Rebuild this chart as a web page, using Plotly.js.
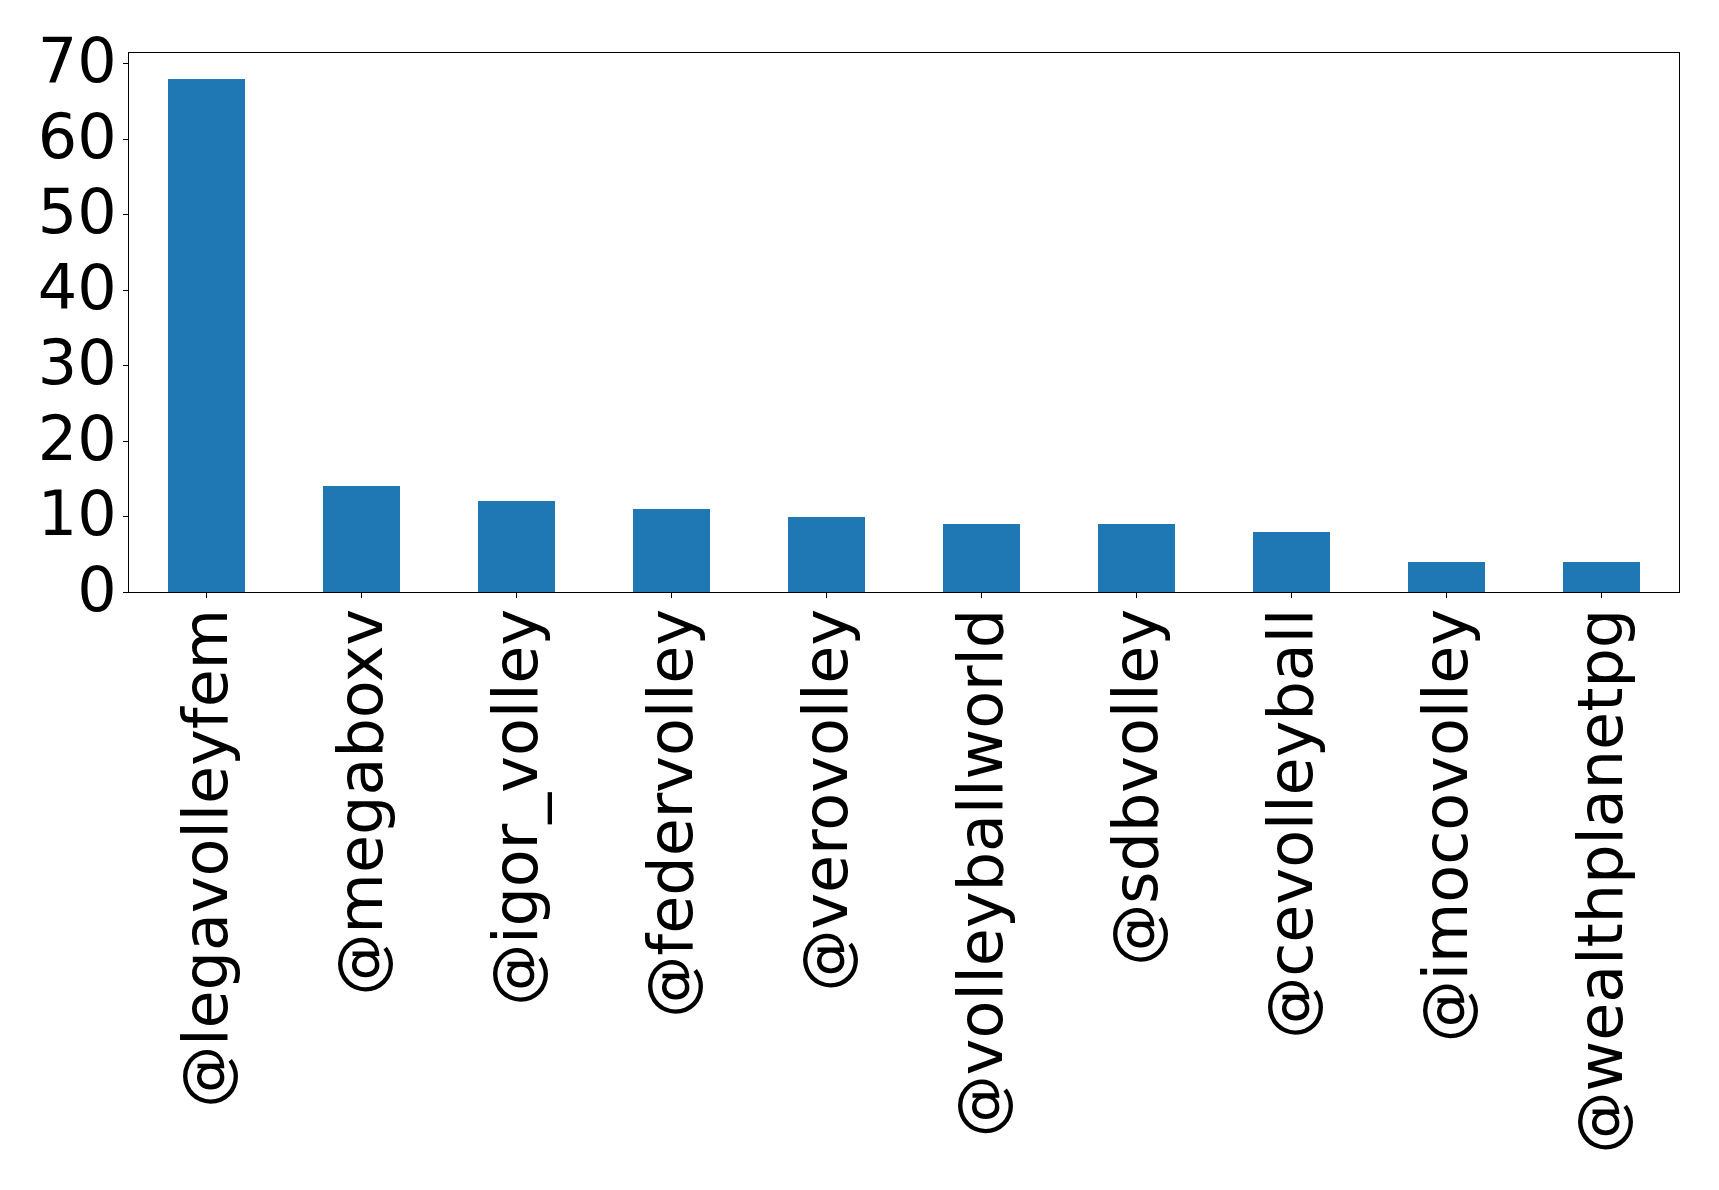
<!DOCTYPE html>
<html>
<head>
<meta charset="utf-8">
<script src="https://cdn.plot.ly/plotly-3.0.1.min.js"></script>
<style>
  html, body { margin: 0; padding: 0; background: #fff; }
  #chart { width: 1719px; height: 1190px; }
</style>
</head>
<body>
<div id="chart"></div>
<script>
const accounts = ['@legavolleyfem', '@megaboxv', '@igor_volley', '@federvolley', '@verovolley',
                  '@volleyballworld', '@sdbvolley', '@cevolleyball', '@imocovolley', '@wealthplanetpg'];
const mentions = [68, 14, 12, 11, 10, 9, 9, 8, 4, 4];
const yTicks = [0, 10, 20, 30, 40, 50, 60, 70];

const trace = {
  type: 'bar',
  x: accounts,
  y: mentions,
  width: 0.5,
  marker: { color: '#1f77b4', line: { width: 0 } },
  hoverinfo: 'x+y'
};

const tickFont = { family: 'DejaVu Sans', size: 62, color: '#000' };

const layout = {
  width: 1719,
  height: 1190,
  margin: { l: 129, r: 40, t: 53, b: 598 },
  paper_bgcolor: '#fff',
  plot_bgcolor: '#fff',
  showlegend: false,
  bargap: 0,
  xaxis: {
    type: 'category',
    range: [-0.5, accounts.length - 0.5],
    tickangle: -90,
    tickfont: tickFont,
    ticks: 'outside', ticklen: 5, tickwidth: 1, tickcolor: '#000',
    showline: true, linecolor: '#000', linewidth: 1, mirror: true,
    showgrid: false, zeroline: false,
    ticklabelstandoff: -14
  },
  yaxis: {
    range: [0, 71.4],
    tickmode: 'array',
    tickvals: yTicks,
    ticktext: yTicks.map(String),
    tickfont: tickFont,
    ticks: 'outside', ticklen: 5, tickwidth: 1, tickcolor: '#000',
    showline: true, linecolor: '#000', linewidth: 1, mirror: true,
    showgrid: false, zeroline: false,
    ticklabelstandoff: -6,
    ticklabelshift: -3
  }
};

Plotly.newPlot('chart', [trace], layout, { displayModeBar: false, staticPlot: true });
</script>
</body>
</html>
